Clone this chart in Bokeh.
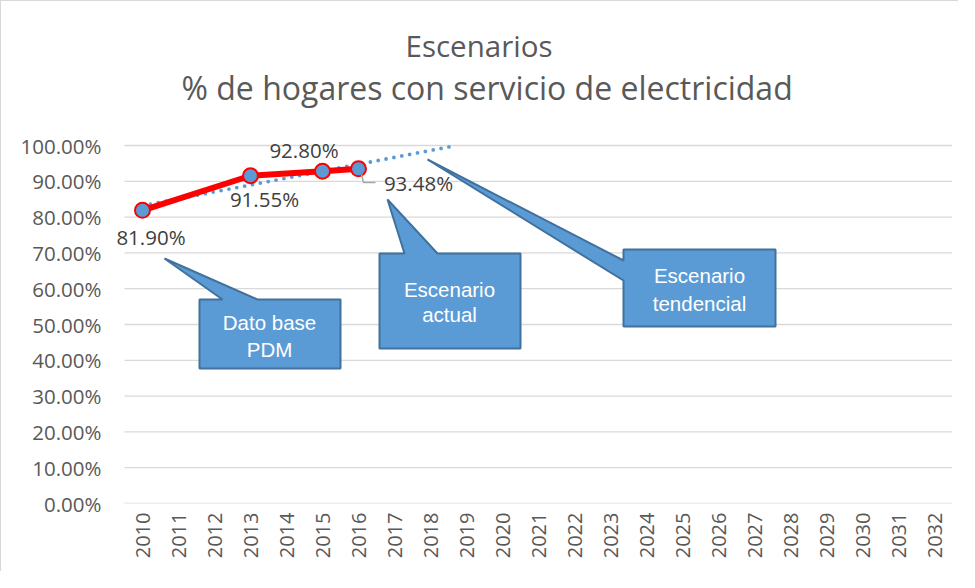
import math
from bokeh.plotting import figure
from bokeh.models import Range1d, FixedTicker, NumeralTickFormatter, Label
from bokeh.embed import file_html
from bokeh.resources import INLINE

# ---------------- data ----------------
years = list(range(2010, 2033))
obs_years = [2010, 2013, 2015, 2016]
obs_values = [0.8190, 0.9155, 0.9280, 0.9348]
obs_labels = ["81.90%", "91.55%", "92.80%", "93.48%"]
trend_years = [2010, 2018.72]
trend_values = [0.8319, 1.0]
y_ticks = [0.0, 0.1, 0.2, 0.3, 0.4, 0.5, 0.6, 0.7, 0.8, 0.9, 1.0]
title_lines = ["Escenarios", "% de hogares con servicio de electricidad"]
callout_texts = [["Dato base", "PDM"], ["Escenario", "actual"], ["Escenario", "tendencial"]]

# ---------------- layout helpers (page pixels -> data) ----------------
# chart plot area (as in the reference): x 132..960, y 153..511 (page pixels)
AREA_L, AREA_B = 132, 511
X_START, X_END, PX_PER_YEAR, PX_PER_UNIT = 2009.5, 2032.5, 36.0, 358.0
EXTRA_L = 12          # frame extended a little to the left so labels are not clipped
CANVAS_TOP = 9        # page y of the canvas top (8px margin + 1px border)

def dx(px):
    return X_START + (px - AREA_L) / PX_PER_YEAR

def dy(py):
    return (AREA_B - py) / PX_PER_UNIT

FONT = "Open Sans"
GREY_TXT = "#595959"
GRID = "#D9D9D9"
BLUE = "#5B9BD5"
BLUE_DARK = "#41719C"

p = figure(width=958, height=571, output_backend="svg", toolbar_location=None,
           x_range=Range1d(X_START - EXTRA_L / PX_PER_YEAR, X_END),
           y_range=Range1d(0, dy(CANVAS_TOP)),
           min_border_left=111, min_border_top=0, min_border_right=7, min_border_bottom=69)
p.styles = {"border-left": "1px solid #D9D9D9", "border-top": "1px solid #D9D9D9"}
p.outline_line_color = None
p.background_fill_color = "white"
p.border_fill_color = "white"

# axes
p.xaxis.ticker = FixedTicker(ticks=years)
p.xaxis.major_label_orientation = math.pi / 2
p.xaxis.major_tick_line_color = None
p.xaxis.minor_tick_line_color = None
p.xaxis.axis_line_color = None
p.xaxis.major_label_standoff = 3
p.xaxis.major_label_text_font = FONT
p.xaxis.major_label_text_font_size = "20px"
p.xaxis.major_label_text_color = GREY_TXT

p.yaxis.ticker = FixedTicker(ticks=y_ticks)
p.yaxis.formatter = NumeralTickFormatter(format="0.00%")
p.yaxis.major_tick_line_color = None
p.yaxis.minor_tick_line_color = None
p.yaxis.axis_line_color = None
p.yaxis.major_label_standoff = 5
p.yaxis.major_label_text_font = FONT
p.yaxis.major_label_text_font_size = "20.5px"
p.yaxis.major_label_text_color = GREY_TXT

p.xgrid.grid_line_color = None
p.ygrid.grid_line_color = None

# horizontal gridlines spanning only the chart's plot area
p.segment(x0=[X_START] * len(y_ticks), x1=[X_END] * len(y_ticks), y0=y_ticks, y1=y_ticks,
          line_color=GRID, line_width=1.3)

# title (two lines)
for (lx, by, fs), txt in zip([(413, 53, "29.5px"), (189, 95, "32px")], title_lines):
    p.add_layout(Label(x=dx(lx), y=dy(by), text=txt, text_align="left",
                       text_baseline="alphabetic", text_font=FONT,
                       text_font_size=fs, text_color=GREY_TXT))

# trend line (dotted)
p.line(trend_years, trend_values, line_color=BLUE, line_width=3.8,
       line_dash="0 8", line_cap="round")

# observed series
p.line(obs_years, obs_values, line_color="#FF0000", line_width=6, line_join="round")
p.scatter(obs_years, obs_values, size=15, fill_color=BLUE, line_color="#FF0000", line_width=2)

# data labels
label_offsets = [(8.5, -27.2), (14, -23.2), (-18.5, 20.8), (60, -14.2)]
for xv, yv, txt, (ox, oy) in zip(obs_years, obs_values, obs_labels, label_offsets):
    p.add_layout(Label(x=xv, y=yv, text=txt, x_offset=ox, y_offset=oy,
                       text_align="center", text_baseline="middle",
                       text_font=FONT, text_font_size="20.5px", text_color="#404040"))

# leader line for last label
p.line([dx(369), dx(371), dx(383)], [dy(182), dy(190), dy(190)],
       line_color="#A6A6A6", line_width=1.5)

# callouts
callout_shapes = [
    [(207, 307), (230, 307), (172, 266), (265, 307), (348, 307), (348, 376), (207, 376)],
    [(387, 261), (412, 261), (395, 207), (445, 261), (528, 261), (528, 356), (387, 356)],
    [(631, 257), (783, 257), (783, 334), (631, 334), (631, 288), (435, 167), (631, 268)],
]
callout_text_pos = [(277, 330, 357), (457, 297, 322), (707, 283, 311)]
for shape, (cx, y1, y2), lines in zip(callout_shapes, callout_text_pos, callout_texts):
    p.patch([dx(a) for a, b in shape], [dy(b) for a, b in shape],
            fill_color=BLUE, line_color=BLUE_DARK, line_width=2)
    for yy, txt in zip((y1, y2), lines):
        p.add_layout(Label(x=dx(cx), y=dy(yy), text=txt, text_align="center",
                           text_baseline="middle", text_font="Liberation Sans",
                           text_font_size="20.5px", text_color="white"))

open("out.html", "w").write(file_html(p, INLINE))
